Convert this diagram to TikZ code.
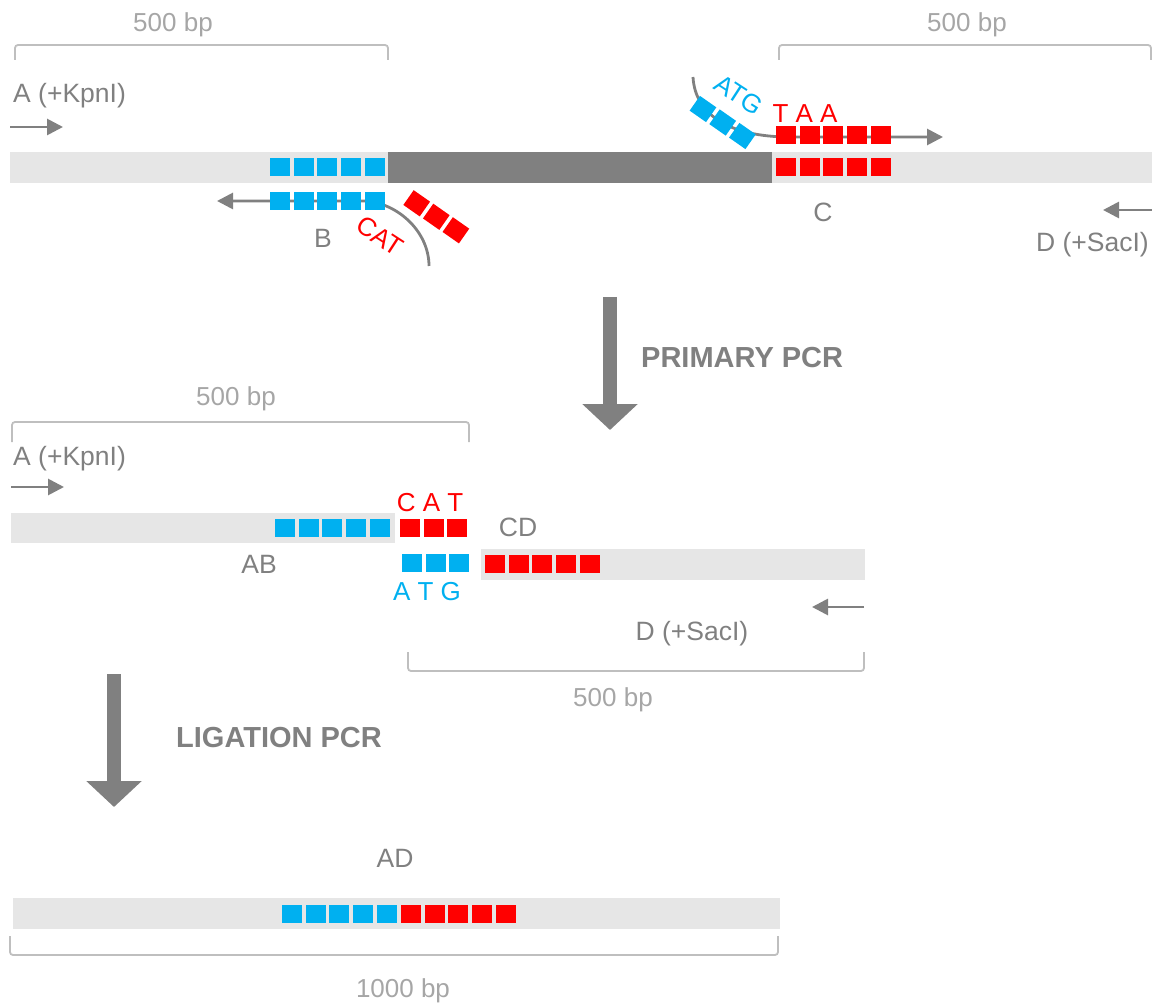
\documentclass[tikz,border=0pt]{standalone}
\usepackage{fontspec}
\setmainfont{Liberation Sans}
\usetikzlibrary{arrows.meta}
\definecolor{barlight}{HTML}{E6E6E6}
\definecolor{bardark}{HTML}{808080}
\definecolor{sqblue}{HTML}{00B0F0}
\definecolor{sqred}{HTML}{FF0000}
\definecolor{txtgray}{HTML}{808080}
\definecolor{bpgray}{HTML}{A6A6A6}
\definecolor{brgray}{HTML}{BFBFBF}
\tikzset{
  bar/.style={rectangle, fill=barlight, inner sep=0pt, outer sep=0pt, anchor=north west},
  darkbar/.style={rectangle, fill=bardark, inner sep=0pt, outer sep=0pt, anchor=north west},
  sqb/.style={rectangle, fill=sqblue, minimum width=20pt, minimum height=18pt, inner sep=0pt, outer sep=0pt},
  sqr/.style={rectangle, fill=sqred, minimum width=20pt, minimum height=18pt, inner sep=0pt, outer sep=0pt},
  lbl/.style={text=txtgray, font=\fontsize{26.5}{30}\selectfont, inner sep=0pt, anchor=base},
  bplbl/.style={text=bpgray, font=\fontsize{26}{30}\selectfont, inner sep=0pt, anchor=base},
  seqred/.style={text=sqred, font=\fontsize{26}{30}\selectfont, inner sep=0pt},
  seqblue/.style={text=sqblue, font=\fontsize{26}{30}\selectfont, inner sep=0pt},
  steplbl/.style={text=txtgray, font=\bfseries\fontsize{29}{34}\selectfont, inner sep=0pt, anchor=base west},
  bracket/.style={draw=brgray, line width=1.8pt, rounded corners=3pt},
  primer/.style={draw=txtgray, line width=2.8pt, -{Triangle[length=16pt,width=16pt]}},
  bigarrow/.style={draw=bardark, line width=14pt, -{Triangle[length=26pt,width=54pt]}}
}
\begin{document}
\begin{tikzpicture}[x=1pt,y=-1pt]
\useasboundingbox (0,0) rectangle (1152,1003);

% ---------------- TOP: template ----------------
\node[bplbl] (bp1) at (173,32) {500 bp};
\draw[bracket] (15,60) -- (15,45) -- (388,45) -- (388,60);
\node[bplbl] (bp2) at (967,32) {500 bp};
\draw[bracket] (779,60) -- (779,45) -- (1151,45) -- (1151,60);

\node[lbl, anchor=base west] (Alab) at (13,103) {A (+KpnI)};
\coordinate (A1s) at (10,127);
\coordinate (A1e) at (63,127);
\draw[primer] (A1s) -- (A1e);

\node[bar, minimum width=1142pt, minimum height=31pt] (topbar) at (10,152) {};
\node[darkbar, minimum width=384pt, minimum height=31pt] (gene) at (388,152) {};

% primer B
\coordinate (Bs) at (429,266);
\coordinate (Bm) at (362,201);
\coordinate (Be) at (217,201);
\draw[primer] (Bs) .. controls (429,230) and (395,201) .. (Bm) -- (Be);
% primer C
\coordinate (Cs) at (693,77);
\coordinate (Cm) at (790,137);
\coordinate (Ce) at (943,137);
\draw[primer] (Cs) .. controls (695,115) and (730,137) .. (Cm) -- (Ce);
% primer D
\coordinate (D1s) at (1152,210);
\coordinate (D1e) at (1103,210);
\draw[primer] (D1s) -- (D1e);

\foreach \i in {0,...,4} {
  \node[sqb] (tb\i) at ({280+23.7*\i},167) {};
  \node[sqb] (pb\i) at ({280+23.7*\i},201) {};
  \node[sqr] (tr\i) at ({786+23.7*\i},167) {};
  \node[sqr] (pc\i) at ({786+23.7*\i},135) {};
}
\foreach \i in {0,1,2} {
  \node[sqr, rotate=-35] (fr\i) at ({416.7+19.6*\i},{203.3+13.5*\i}) {};
  \node[sqb, rotate=-35] (fb\i) at ({703+19.7*\i},{109+13.5*\i}) {};
}
\node[seqred, rotate=-33] (catlab) at (380,236) {CAT};
\node[seqblue, rotate=-33] (atglab) at (739,95) {ATG};
\node[seqred, anchor=base] (taalab) at (805,123) {T A A};

\node[lbl] (Blab) at (323,248) {B};
\node[lbl] (Clab) at (823,222) {C};
\node[lbl, anchor=base east] (Dlab) at (1149,252) {D (+SacI)};

% ---------------- arrow 1 ----------------
\coordinate (P1s) at (610,297);
\coordinate (P1e) at (610,430);
\draw[bigarrow] (P1s) -- (P1e);
\node[steplbl] (prim) at (641,367) {PRIMARY PCR};

% ---------------- MIDDLE ----------------
\node[bplbl] (bp3) at (236,405) {500 bp};
\draw[bracket] (12,442) -- (12,422) -- (469,422) -- (469,442);
\node[lbl, anchor=base west] (Alab2) at (13,465) {A (+KpnI)};
\coordinate (A2s) at (11,487);
\coordinate (A2e) at (64,487);
\draw[primer] (A2s) -- (A2e);

\node[bar, minimum width=384pt, minimum height=30pt] (ABbar) at (11,513) {};
\node[bar, minimum width=384pt, minimum height=31pt] (CDbar) at (481,549) {};
\foreach \i in {0,...,4} {
  \node[sqb] (ab\i) at ({285+23.7*\i},527.5) {};
  \node[sqr] (cd\i) at ({495+23.7*\i},564) {};
}
\foreach \i in {0,1,2} {
  \node[sqr] (cat\i) at ({410+23.7*\i},527.5) {};
  \node[sqb] (atg\i) at ({412+23.7*\i},563) {};
}
\node[seqred, anchor=base] (catlab2) at (430,511) {C A T};
\node[seqblue, anchor=base] (atglab2) at (427,600) {A T G};
\node[lbl] (ABlab) at (259,573) {AB};
\node[lbl] (CDlab) at (518,536) {CD};

\coordinate (D2s) at (864,607);
\coordinate (D2e) at (812,607);
\draw[primer] (D2s) -- (D2e);
\node[lbl] (Dlab2) at (692,640) {D (+SacI)};
\draw[bracket] (408,652) -- (408,671) -- (864,671) -- (864,652);
\node[bplbl] (bp4) at (613,706) {500 bp};

% ---------------- arrow 2 ----------------
\coordinate (P2s) at (114,674);
\coordinate (P2e) at (114,807);
\draw[bigarrow] (P2s) -- (P2e);
\node[steplbl] (lig) at (176,747) {LIGATION PCR};

% ---------------- BOTTOM ----------------
\node[lbl] (ADlab) at (395,867) {AD};
\node[bar, minimum width=767pt, minimum height=31pt] (ADbar) at (13,898) {};
\foreach \i in {0,...,4} {
  \node[sqb] (adb\i) at ({292+23.7*\i},914) {};
  \node[sqr] (adr\i) at ({411+23.7*\i},914) {};
}
\draw[bracket] (10,936) -- (10,955) -- (778,955) -- (778,936);
\node[bplbl] (bp5) at (403,997) {1000 bp};
\end{tikzpicture}
\end{document}
